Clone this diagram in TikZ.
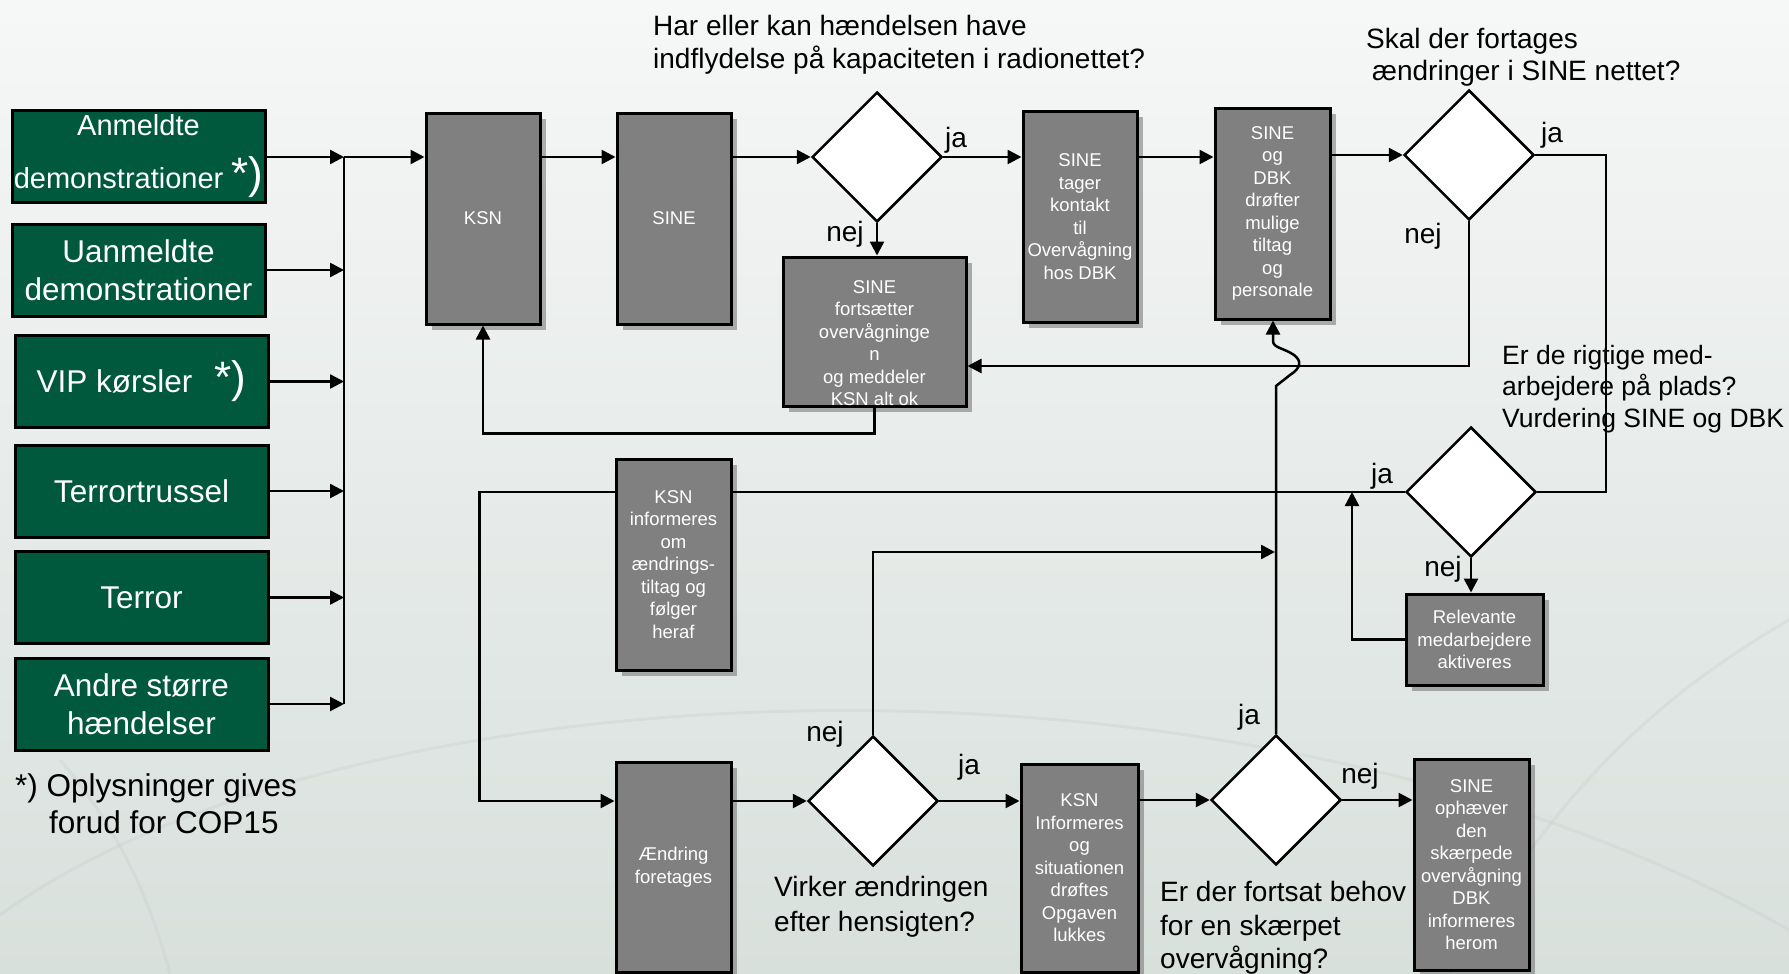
\documentclass[tikz,border=0pt]{standalone}
\usepackage{fontspec}
\setmainfont{Liberation Sans}
\usetikzlibrary{shapes.geometric,arrows.meta,shadows}

\definecolor{dkgreen}{RGB}{0,88,61}
\definecolor{boxgray}{RGB}{128,128,128}
\definecolor{bgtop}{RGB}{246,247,247}
\definecolor{bgbot}{RGB}{216,224,220}
\definecolor{arcc}{RGB}{200,207,204}

\tikzset{
  greenbox/.style={draw=black, line width=3pt, fill=dkgreen, text=white, align=center,
    inner sep=0pt, minimum width=253pt, minimum height=92pt,
    font=\fontsize{31.5}{38}\selectfont},
  graybox/.style={draw=black, line width=3pt, fill=boxgray, text=white, align=center,
    inner sep=0pt, font=\fontsize{18.5}{22.5}\selectfont,
    drop shadow={shadow xshift=6pt, shadow yshift=-6pt, opacity=0.5, fill=black!60}},
  boxtext/.style={text=white, align=center, inner sep=0pt, font=\fontsize{18.5}{22.5}\selectfont},
  decision/.style={diamond, draw=black, line width=2.5pt, fill=white, inner sep=0pt,
    minimum width=130pt, minimum height=130pt},
  conn/.style={line width=2.5pt, draw=black},
  arr/.style={conn, -{Triangle[length=14pt,width=14pt]}},
  lbl/.style={font=\fontsize{28}{33}\selectfont, inner sep=0pt},
  qtext/.style={align=left, anchor=west, inner sep=0pt},
  arcline/.style={draw=arcc, line width=3pt, opacity=0.35},
}

\begin{document}
\begin{tikzpicture}[x=1pt,y=-1pt]
\useasboundingbox (0,0) rectangle (1789,974);
\shade[top color=bgtop, bottom color=bgbot] (0,0) rectangle (1789,974);
% faint decorative arcs of the background
\draw[arcline] (0,915) .. controls (350,660) and (1250,620) .. (1789,930);
\draw[arcline] (1450,974) .. controls (1550,800) and (1650,700) .. (1789,620);
\draw[arcline] (60,760) .. controls (120,830) and (150,900) .. (170,974);

% input boxes
\node[greenbox, font=\fontsize{29}{53}\selectfont] (g1) at (138.5,156)
  {Anmeldte\\demonstrationer {\fontsize{44}{44}\selectfont *)}};
\node[greenbox] (g2) at (138.5,270) {Uanmeldte\\demonstrationer};
\node[greenbox] (g3) at (141.5,381.5)
  {VIP kørsler\hspace{22pt}{\fontsize{44}{44}\selectfont *)}};
\node[greenbox] (g4) at (141.5,491) {Terrortrussel};
\node[greenbox] (g5) at (141.5,597.5) {Terror};
\node[greenbox] (g6) at (141.5,704) {Andre større\\hændelser};

\node[qtext, font=\fontsize{31.5}{37}\selectfont] (foot) at (15,803.5)
  {*) Oplysninger gives\\\hspace*{34pt}forud for COP15};

% process boxes
\node[graybox, minimum width=114pt, minimum height=211pt] (ksn) at (483,218.5) {KSN};
\node[graybox, minimum width=114pt, minimum height=211pt] (sine) at (674,218.5) {SINE};
\node[graybox, minimum width=114pt, minimum height=211pt] (tager) at (1080,216.5)
  {SINE\\tager\\kontakt\\til\\Overvågning\\hos DBK};
\node[graybox, minimum width=115pt, minimum height=211pt] (drofter) at (1272.5,213.5)
  {SINE\\og\\DBK\\drøfter\\mulige\\tiltag\\og\\personale};
\node[graybox, minimum width=183pt, minimum height=149pt] (forts) at (874.5,331.5) {};
\node[boxtext] (fortstext) at (874.5,343)
  {SINE\\fortsætter\\overvågninge\\n\\og meddeler\\KSN alt ok};
\node[graybox, minimum width=115pt, minimum height=211pt] (ksninf) at (673.5,564.5)
  {KSN\\informeres\\om\\ændrings-\\tiltag og\\følger\\heraf};
\node[graybox, minimum width=137pt, minimum height=91pt] (relev) at (1474.5,639.5)
  {Relevante\\medarbejdere\\aktiveres};
\node[graybox, minimum width=115pt, minimum height=210pt] (aendr) at (673.5,867)
  {Ændring\\foretages};
\node[graybox, minimum width=117pt, minimum height=208pt] (ksninf2) at (1079.5,868)
  {KSN\\Informeres\\og\\situationen\\drøftes\\Opgaven\\lukkes};
\node[graybox, minimum width=115pt, minimum height=211pt] (ophaev) at (1471.5,864.5)
  {SINE\\ophæver\\den\\skærpede\\overvågning\\DBK\\informeres\\herom};

% decisions
\node[decision] (d1) at (877,157) {};
\node[decision] (d2) at (1469,155) {};
\node[decision] (d3) at (1471,492) {};
\node[decision] (d4) at (873,801) {};
\node[decision] (d5) at (1276,800) {};

% questions
\node[qtext, font=\fontsize{28}{33}\selectfont] (q1) at (653,44.5)
  {Har eller kan hændelsen have\\indflydelse på kapaciteten i radionettet?};
\node[qtext, font=\fontsize{28}{32}\selectfont] (q2) at (1366,57)
  {Skal der fortages\\\hspace*{6pt}ændringer i SINE nettet?};
\node[qtext, font=\fontsize{26.5}{31.5}\selectfont] (q3) at (1502,389)
  {Er de rigtige med-\\arbejdere på plads?\\Vurdering SINE og DBK};
\node[qtext, font=\fontsize{28}{35}\selectfont] (q4) at (774,907)
  {Virker ændringen\\efter hensigten?};
\node[qtext, font=\fontsize{28}{33.5}\selectfont] (q5) at (1160,928)
  {Er der fortsat behov\\for en skærpet\\overvågning?};

% ja / nej labels
\node[lbl] (l1ja) at (956,140) {ja};
\node[lbl] (l1nej) at (845,234) {nej};
\node[lbl] (l2ja) at (1552,135) {ja};
\node[lbl] (l2nej) at (1423,236) {nej};
\node[lbl] (l3ja) at (1382,476) {ja};
\node[lbl] (l3nej) at (1443,569) {nej};
\node[lbl] (l4nej) at (825,734) {nej};
\node[lbl] (l4ja) at (969,767) {ja};
\node[lbl] (l5ja) at (1249,717) {ja};
\node[lbl] (l5nej) at (1360,776) {nej};

% connectors
\coordinate (bus) at (344,157);
\draw[arr] (g1.east |- bus) -- (bus);
\foreach \g in {g2,g3,g4,g5,g6} \draw[arr] (\g.east) -- (\g.east -| bus);
\draw[conn] (bus) -- (g6.east -| bus);
\draw[arr] (bus) -- (bus -| ksn.west);
\draw[arr] (ksn.east |- d1.west) -- (sine.west |- d1.west);
\draw[arr] (sine.east |- d1.west) -- (d1.west);
\draw[arr] (d1.east) -- (tager.west |- d1.east);
\draw[arr] (tager.east |- d1.east) -- (drofter.west |- d1.east);
\draw[arr] (drofter.east |- d2.west) -- (d2.west);
\draw[arr] (d1.south) -- (d1.south |- forts.north);
\coordinate (c2) at (1606,300);
\draw[conn] (d2.east) -| (c2) |- (d3.east);
\coordinate (r1) at (1000,366);
\draw[arr] (d2.south) |- (forts.east |- r1);
\draw[arr] (forts.south) -- ++(0,26) -| (ksn.south);
\draw[conn] (d3.west) -- (ksninf.east |- d3.west);
\draw[arr] (ksninf.west |- d3.west) -- ++(-135,0) |- (aendr.west |- d4.west);
\draw[arr] (d3.south) -- (d3.south |- relev.north);
\coordinate (rv) at (1352,600);
\draw[arr] (relev.west) -| (rv |- d3.west);
\draw[arr] (aendr.east |- d4.west) -- (d4.west);
\coordinate (v1) at (1275,552);
\draw[arr] (d4.north) |- (v1);
\draw[arr] (d4.east) -- (ksninf2.west |- d4.east);
\draw[arr] (ksninf2.east |- d5.west) -- (d5.west);
\draw[arr] (d5.east) -- (ophaev.west |- d5.east);
\coordinate (h1) at (1276,386);
\coordinate (h2) at (1273,341);
\draw[arr] (d5.north) -- (h1) -- (1290,375) .. controls (1301,368) and (1302,361) .. (1294,355)
  .. controls (1284,348) and (1273,348) .. (h2) -- (drofter.south -| h2);
\end{tikzpicture}
\end{document}
